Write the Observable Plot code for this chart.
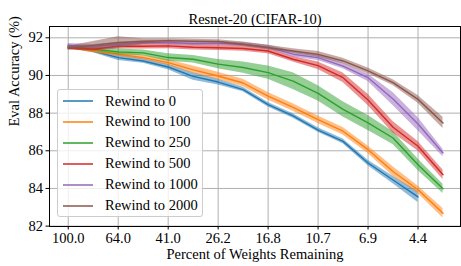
<!DOCTYPE html>
<html><head>
<meta charset="utf-8">
<script src="https://cdn.jsdelivr.net/npm/d3@7"></script>
<script src="https://cdn.jsdelivr.net/npm/@observablehq/plot@0.6"></script>
<style>
body{margin:0;background:#fff}
#wrap{position:relative;width:461px;height:266px;font-family:'Liberation Serif',serif}
#legend{position:absolute;left:57px;top:89px;width:146px;height:128px;border:1px solid #cccccc;border-radius:3px;background:rgba(255,255,255,0.8);box-sizing:border-box}
.row{position:absolute;left:0;height:20px;display:flex;align-items:center;font-size:14.5px;color:#000;white-space:nowrap;font-family:'Liberation Serif',serif}
.row svg{margin-left:5px;margin-right:12px}
</style>
</head><body><div id="wrap"></div>
<script>
const title = "Resnet-20 (CIFAR-10)";
const xTitle = "Percent of Weights Remaining";
const yTitle = "Eval Accuracy (%)";
const percentRemaining = [100.0, 80.0, 64.0, 51.2, 41.0, 32.8, 26.2, 21.0, 16.8, 13.4, 10.7, 8.6, 6.9, 5.5, 4.4, 3.5];
const xTickIndex = [0, 2, 4, 6, 8, 10, 12, 14];
const xTickLabels = ["100.0", "64.0", "41.0", "26.2", "16.8", "10.7", "6.9", "4.4"];
const yTicks = [82, 84, 86, 88, 90, 92];

const seriesNames = ["Rewind to 0", "Rewind to 100", "Rewind to 250", "Rewind to 500", "Rewind to 1000", "Rewind to 2000"];
const colors = ["#1f77b4", "#ff7f0e", "#2ca02c", "#d62728", "#9467bd", "#8c564b"];

const r0    = [91.55, 91.3, 90.95, 90.77, 90.45, 89.95, 89.65, 89.25, 88.45, 87.85, 87.1, 86.5, 85.35, 84.45, 83.55];
const r100  = [91.5, 91.3, 91.13, 90.95, 90.68, 90.3, 89.97, 89.6, 88.9, 88.3, 87.65, 87.04, 86.06, 84.9, 83.93, 82.68];
const r250  = [91.5, 91.4, 91.25, 91.2, 90.95, 90.86, 90.6, 90.42, 90.15, 89.7, 89.05, 88.2, 87.48, 86.68, 85.26, 83.98];
const r500  = [91.45, 91.4, 91.55, 91.55, 91.57, 91.5, 91.47, 91.43, 91.3, 90.86, 90.52, 89.88, 88.7, 87.25, 86.24, 84.73];
const r1000 = [91.6, 91.55, 91.65, 91.75, 91.75, 91.7, 91.7, 91.65, 91.5, 91.13, 90.95, 90.5, 89.88, 88.75, 87.42, 85.88];
const r2000 = [91.45, 91.6, 91.75, 91.8, 91.85, 91.82, 91.8, 91.66, 91.48, 91.3, 91.12, 90.77, 90.24, 89.62, 88.73, 87.48];

const s0    = [0.1, 0.1, 0.15, 0.12, 0.15, 0.2, 0.15, 0.12, 0.12, 0.12, 0.12, 0.12, 0.15, 0.2, 0.3];
const s100  = [0.1, 0.1, 0.12, 0.12, 0.15, 0.2, 0.2, 0.2, 0.2, 0.2, 0.2, 0.2, 0.2, 0.25, 0.2, 0.25];
const s250  = [0.1, 0.1, 0.15, 0.15, 0.2, 0.2, 0.25, 0.3, 0.35, 0.45, 0.4, 0.4, 0.4, 0.35, 0.3, 0.25];
const s500  = [0.1, 0.1, 0.15, 0.15, 0.15, 0.15, 0.15, 0.15, 0.15, 0.15, 0.2, 0.25, 0.3, 0.3, 0.25, 0.25];
const s1000 = [0.1, 0.1, 0.1, 0.1, 0.1, 0.1, 0.1, 0.1, 0.1, 0.15, 0.15, 0.15, 0.2, 0.35, 0.35, 0.2];
const s2000 = [0.1, 0.2, 0.3, 0.15, 0.1, 0.1, 0.1, 0.12, 0.12, 0.12, 0.15, 0.15, 0.15, 0.15, 0.2, 0.3];

const means = [r0, r100, r250, r500, r1000, r2000];
const spreads = [s0, s100, s250, s500, s1000, s2000];

const marks = [
  Plot.gridX(xTickIndex, {stroke: "#b0b0b0", strokeOpacity: 1, strokeWidth: 1}),
  Plot.gridY(yTicks, {stroke: "#b0b0b0", strokeOpacity: 1, strokeWidth: 1})
];
means.forEach((m, k) => {
  const rows = m.map((v, i) => ({i, pct: percentRemaining[i], v, lo: v - spreads[k][i], hi: v + spreads[k][i]}));
  marks.push(Plot.areaY(rows, {x: "i", y1: "lo", y2: "hi", fill: colors[k], fillOpacity: 0.5}));
  marks.push(Plot.line(rows, {x: "i", y: "v", stroke: colors[k], strokeWidth: 1.4}));
});
marks.push(
  Plot.frame({stroke: "#000", strokeWidth: 1}),
  Plot.axisX(xTickIndex, {tickSize: 3.5, tickPadding: 3, tickFormat: (d, j) => xTickLabels[j], label: null}),
  Plot.axisY(yTicks, {tickSize: 3.5, tickPadding: 3, label: null}),
  Plot.text([title], {frameAnchor: "top", dy: -13}),
  Plot.text([xTitle], {frameAnchor: "bottom", dy: 32}),
  Plot.text([yTitle], {frameAnchor: "left", dx: -35, rotate: -90})
);

const chart = Plot.plot({
  width: 461, height: 266,
  marginLeft: 49, marginRight: 1, marginTop: 26, marginBottom: 40,
  style: {fontFamily: "'Liberation Serif', serif", fontSize: "14.5px", background: "#fff", color: "#000"},
  x: {type: "linear", domain: [-0.75, 15.7]},
  y: {domain: [81.98, 92.6]},
  marks
});
const wrap = document.getElementById("wrap");
wrap.appendChild(chart);

const legend = document.createElement("div");
legend.id = "legend";
seriesNames.forEach((name, k) => {
  const row = document.createElement("div");
  row.className = "row";
  row.style.top = (1 + k * 20.9) + "px";
  row.innerHTML = `<svg width="30" height="4"><line x1="0" x2="30" y1="2" y2="2" stroke="${colors[k]}" stroke-width="1.5"/></svg><span>${name}</span>`;
  legend.appendChild(row);
});
wrap.appendChild(legend);
</script>
</body></html>
